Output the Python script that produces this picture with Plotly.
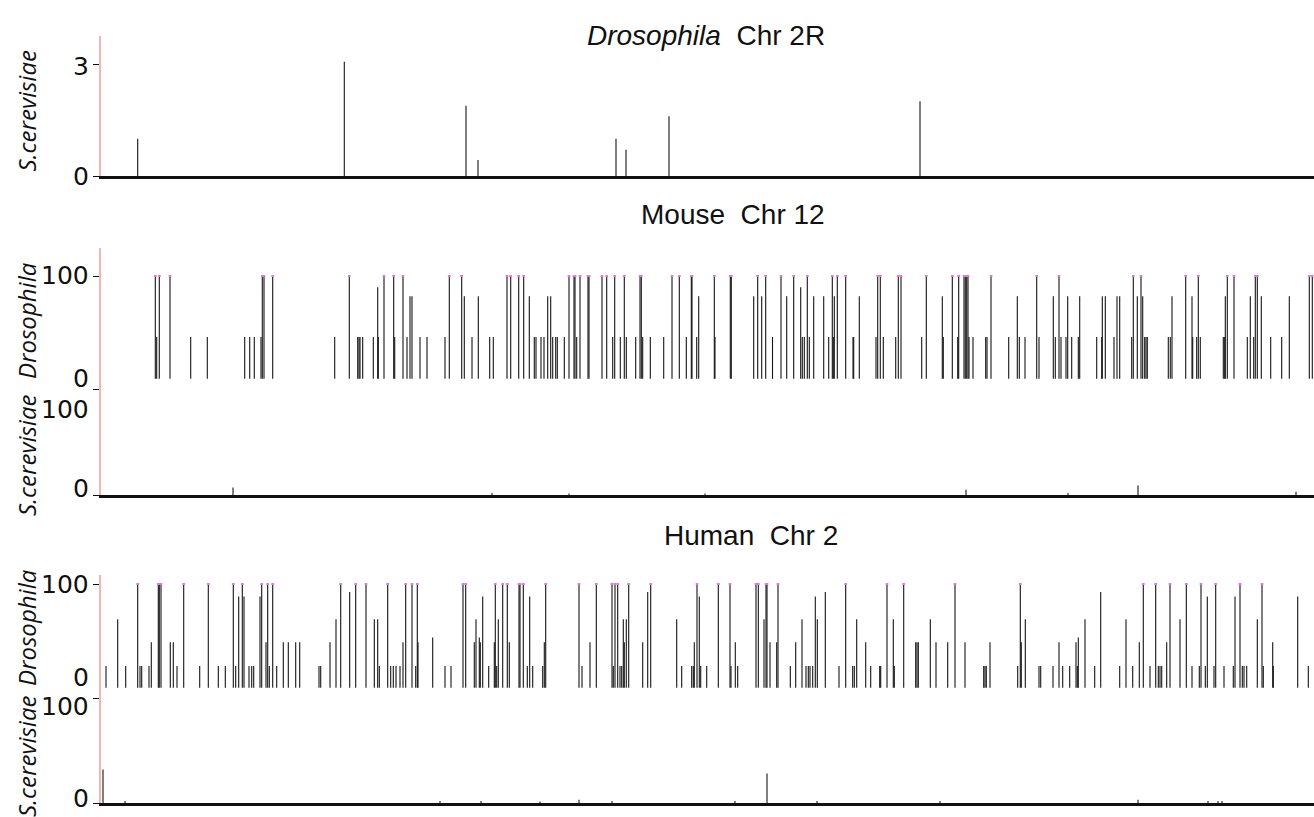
import plotly.graph_objects as go

# ---------------- data (positions along chromosome, arbitrary units 1..1214) ----------------
fly_2r_pos = [37.7, 244.3, 366, 378, 516, 526, 569, 820]
fly_2r_sc = [1.0, 3.06, 1.88, 0.43, 1.0, 0.7, 1.6, 2.0]

mouse_dros_pos = [55.3, 56.7, 59.3, 70, 90.7, 107.3, 144.7, 149.7, 154.3, 161, 162.3, 164, 172.7, 234.7,
    249.3, 257.7, 259, 260, 262.7, 273.3, 277.7, 278.3, 284, 293.7, 294.7, 303, 307, 310, 312, 320, 327,
    345, 349.3, 361.7, 364.3, 372, 378.3, 389.7, 393.3, 407, 410.7, 418.7, 423.7, 429.3, 434.3, 436, 441,
    444, 447.7, 450.7, 452.7, 455.7, 457.3, 464.3, 469, 474, 475, 476.7, 480, 488, 489, 502, 506.7, 512.7,
    514.7, 520.3, 524.3, 526.3, 535.7, 540, 541.3, 542.7, 550.3, 563.7, 572, 579.3, 586.3, 591.3, 592,
    596.7, 598.7, 614.3, 615, 630.3, 631.3, 653.7, 657.7, 661.7, 665.7, 672.5, 681, 686.7, 693.7, 700.7,
    702.3, 704.3, 707.3, 709.3, 713.7, 723.7, 728.7, 732.3, 733.3, 734.3, 737.3, 745.7, 753, 753.7, 759.3,
    776, 777.7, 780.3, 783.3, 795.7, 798.3, 801, 821.7, 826.3, 842.3, 843.3, 852.3, 857.7, 858.7, 864,
    865.3, 866.7, 868, 869, 873, 885.7, 887, 891, 908.7, 917.3, 919.3, 925, 936.7, 939, 953.3, 955.3, 959,
    961, 966, 967.7, 971.7, 978.3, 979.7, 996.7, 1001.7, 1002.3, 1005.3, 1014, 1017, 1019.7, 1031.7,
    1033.3, 1037.3, 1041, 1042.7, 1044.7, 1046, 1047.3, 1068.3, 1070.3, 1072, 1085.7, 1092, 1092.7,
    1096.7, 1098.3, 1100.3, 1123.3, 1124.7, 1125.3, 1127.3, 1134, 1147.3, 1150.3, 1153.7, 1155.3, 1157.3,
    1161.3, 1170.7, 1181.7, 1189.3, 1209.3, 1212.3]
mouse_dros_val = [100, 46, 100, 100, 46, 46, 46, 46, 46, 46, 100, 100, 100, 46,
    100, 46, 46, 46, 46, 46, 90, 46, 100, 100, 46, 100, 46, 82, 82, 46, 46,
    46, 100, 100, 82, 46, 82, 46, 46, 100, 100, 100, 100, 82, 46, 46, 46,
    46, 82, 82, 46, 46, 46, 46, 100, 100, 100, 46, 100, 100, 100, 100, 100, 46,
    100, 46, 100, 46, 46, 100, 100, 46, 46, 46, 100, 100, 46, 100, 100,
    46, 82, 100, 46, 100, 100, 82, 100, 82, 100, 46, 100, 82, 100, 90,
    46, 46, 100, 46, 82, 82, 46, 100, 46, 82, 100, 100, 46, 46, 82,
    46, 100, 100, 46, 46, 100, 100, 46, 100, 82, 46, 100, 46, 100, 100,
    100, 100, 100, 46, 46, 46, 46, 100, 46, 82, 46, 46, 100, 46, 82, 46, 100,
    46, 46, 82, 46, 46, 82, 46, 46, 82, 82, 46, 82, 82, 46,
    100, 82, 100, 82, 46, 46, 46, 46, 46, 82, 100, 82, 46,
    46, 100, 46, 46, 46, 82, 100, 100, 46, 82, 46, 100, 100,
    82, 46, 46, 82, 100, 100]

mouse_sc_pos = [133, 392, 469, 605, 866, 968, 1038, 1196]
mouse_sc_val = [7, 2, 1.5, 1.5, 5, 2, 9, 3]

human_dros_pos = [6, 17.7, 25.7, 37.7, 40, 41.7, 49, 51.3, 58.3, 59.3, 61, 70.3, 73.3, 77, 83.7, 99.7,
    108.3, 118.3, 125.3, 133.3, 135.7, 138.7, 142.3, 144, 149, 151.7, 153.7, 160, 161.7, 166, 167.7,
    169.3, 172.7, 176.7, 183.3, 188.3, 195.7, 199.7, 219, 220.7, 230, 236, 240.7, 249.7, 255.7, 266,
    274.3, 277.7, 279.3, 287.7, 290.7, 293.3, 296, 300, 303, 305.7, 312, 315.7, 317.3, 318, 332.7, 345,
    351, 363, 365.7, 374.3, 376, 379.3, 380.3, 382.7, 388.7, 394.3, 395.3, 396.7, 398.3, 402.7, 407.3,
    409.3, 419, 420, 423.3, 427.3, 429.7, 432.7, 442.7, 444.3, 445.7, 479, 482, 490, 496.3, 512, 513.3,
    515, 517.7, 520, 521.7, 523.3, 524.3, 526.3, 528.7, 542.7, 547.7, 550.7, 576.7, 581.7, 591.7, 593.3,
    594.3, 597, 599.3, 600.7, 606.7, 618.3, 630, 631, 635.3, 637.7, 656, 658.3, 664, 666, 667, 670,
    676.7, 678, 690.3, 695.7, 702, 706, 708.3, 710, 712.7, 715.3, 717.3, 725.3, 739, 745.7, 752.7,
    754.3, 756.7, 765.7, 770.7, 779.7, 780.7, 787, 793.3, 794.3, 803.7, 815.7, 817, 818.3, 830.3, 836,
    847.7, 855, 865, 883.7, 885, 886.3, 890, 917.7, 920.3, 921.3, 925.3, 939, 940.7, 953, 959, 962.7,
    969.7, 976, 977.3, 978.3, 985, 994.7, 1000.7, 1019.7, 1026, 1032.7, 1039.3, 1043.3, 1050, 1055.7,
    1058.3, 1060, 1061.7, 1066.7, 1070, 1080, 1086.3, 1092, 1099.3, 1101, 1105.3, 1107.3, 1114, 1115.7,
    1124, 1133.3, 1135, 1140, 1142.3, 1144, 1146.7, 1157.3, 1162, 1163.3, 1172.7, 1173.3, 1197.7, 1208.3]
human_dros_val = [28, 69, 28, 100, 28, 28, 28, 49, 100, 100, 100, 49, 49, 28, 100, 28,
    100, 28, 28, 100, 28, 89, 100, 89, 28, 28, 28, 89, 100, 49, 100,
    28, 100, 28, 49, 49, 49, 49, 28, 28, 49, 69, 100, 93, 100, 100,
    69, 69, 28, 100, 28, 28, 28, 28, 49, 100, 100, 28, 100, 49, 53, 28,
    28, 100, 100, 49, 69, 53, 49, 89, 28, 49, 100, 28, 69, 100, 100,
    49, 100, 100, 100, 28, 89, 28, 28, 49, 100, 100, 28, 49, 100, 100, 28,
    100, 100, 28, 28, 69, 49, 69, 100, 49, 93, 100, 69, 28, 28, 28,
    49, 100, 89, 28, 28, 100, 100, 28, 49, 28, 100, 100, 69, 100, 100, 49,
    49, 100, 28, 49, 69, 28, 28, 28, 28, 89, 69, 93, 28, 100, 28,
    28, 69, 49, 28, 28, 28, 100, 69, 28, 100, 49, 49, 49, 69, 49,
    49, 100, 49, 28, 28, 28, 49, 28, 100, 49, 69, 28, 28, 28, 49, 28,
    28, 49, 28, 53, 69, 28, 93, 28, 69, 28, 49, 100, 28, 100,
    28, 28, 28, 49, 100, 69, 100, 28, 28, 100, 28, 89, 28, 100,
    28, 28, 89, 100, 28, 28, 28, 69, 100, 28, 49, 28, 89, 28]

human_sc_pos = [3, 25, 340, 381, 440, 479, 512, 635, 667, 717, 840, 1038, 1108, 1118, 1122]
human_sc_val = [32, 2, 2, 2, 1.5, 3, 2, 2, 28, 2, 2, 3, 2, 2, 2]

titles = ["<i>Drosophila</i>  Chr 2R", "Mouse  Chr 12", "Human  Chr 2"]

# ---------------- layout helpers ----------------
W, H, LM = 1314, 817, 101
PW = W - LM


def py(y):
    return 1 - y / H


def px(x):
    return (x - LM) / PW


def stems(xs, vals, base):
    X, Y = [], []
    for x, v in zip(xs, vals):
        X += [x, x, None]
        Y += [base, v, None]
    return X, Y


BAR = "#151515"
PINK_AX = "#f5b3b3"
CAP = "#e47ad8"
DROS_BASE = 9

fig = go.Figure()

panels = [
    (fly_2r_pos, fly_2r_sc, 0, "x", "y"),
    (mouse_dros_pos, mouse_dros_val, DROS_BASE, "x2", "y2"),
    (mouse_sc_pos, mouse_sc_val, 0, "x3", "y3"),
    (human_dros_pos, human_dros_val, DROS_BASE, "x4", "y4"),
    (human_sc_pos, human_sc_val, 0, "x5", "y5"),
]
for xs, vs, base, xa, ya in panels:
    X, Y = stems(xs, vs, base)
    fig.add_trace(go.Scatter(x=X, y=Y, mode="lines", xaxis=xa, yaxis=ya,
                             line=dict(color=BAR, width=1.1), hoverinfo="skip", showlegend=False))

# pink caps on bars reaching 100
for xs, vs, xa, ya in [(mouse_dros_pos, mouse_dros_val, "x2", "y2"),
                       (human_dros_pos, human_dros_val, "x4", "y4")]:
    cx = [x for x, v in zip(xs, vs) if v == 100]
    fig.add_trace(go.Scatter(x=cx, y=[100] * len(cx), mode="markers", xaxis=xa, yaxis=ya,
                             marker=dict(symbol="line-ew", size=2, line=dict(color=CAP, width=2)),
                             hoverinfo="skip", showlegend=False))

# panel geometry (pixel rows) : (top, bottom, range_top, tickvals, xline)
geo = [
    (36, 176, 3.75, [0, 3], True),
    (248, 389, 124.8, [0, 100], False),
    (389, 495, 100, [0, 100], True),
    (575, 698, 107.9, [0, 100], False),
    (698, 803, 100, [0, 100], True),
]
xrange = [1, 1214]
for i, (top, bot, rtop, tv, xline) in enumerate(geo, start=1):
    sfx = "" if i == 1 else str(i)
    fig.layout["xaxis" + sfx] = dict(domain=[0, 1], range=xrange, anchor="y" + sfx,
                                     showline=xline, linecolor="#111111", linewidth=3,
                                     showgrid=False, zeroline=False, ticks="", showticklabels=False,
                                     fixedrange=True)
    fig.layout["yaxis" + sfx] = dict(domain=[py(bot), py(top)], range=[0, rtop], anchor="x" + sfx,
                                     showline=True, linecolor=PINK_AX, linewidth=1.5,
                                     showgrid=False, zeroline=False, ticks="outside", ticklen=6,
                                     tickcolor="#111111", tickwidth=1, tickvals=tv,
                                     showticklabels=False, fixedrange=True)

annotations = []
TICKFONT = dict(family="DejaVu Sans, sans-serif", size=25, color="#111111")
# tick labels: (axis, value, text, yshift)
tick_labels = [
    ("y", 3, "3", -2), ("y", 0, "0", 0),
    ("y2", 100, "100", 1.5), ("y2", 0, "0", 11),
    ("y3", 100, "100", -20), ("y3", 0, "0", 7),
    ("y4", 100, "100", 0), ("y4", 0, "0", 21),
    ("y5", 100, "100", -8), ("y5", 0, "0", 5.5),
]
for ya, val, txt, ys in tick_labels:
    annotations.append(dict(xref="paper", yref=ya, x=0, y=val, text=txt, showarrow=False,
                            xanchor="right", yanchor="middle", xshift=-10, yshift=ys,
                            height=24, valign="middle", font=TICKFONT))

TITLEFONT = dict(family="Liberation Sans, Arial, sans-serif", size=28, color="#111111")
for txt, cx, cy in zip(titles, [706, 733, 751], [35, 215, 535]):
    annotations.append(dict(xref="paper", yref="paper", x=px(cx), y=py(cy), text=txt,
                            showarrow=False, xanchor="center", yanchor="middle", font=TITLEFONT))

YTFONT = dict(family="Open Sans, sans-serif", size=24, color="#111111")
for txt, cy in [("<i>S.cerevisiae</i>", 111.5), ("<i>Drosophila</i>", 321),
                ("<i>S.cerevisiae</i>", 456), ("<i>Drosophila</i>", 628),
                ("<i>S.cerevisiae</i>", 757)]:
    annotations.append(dict(xref="paper", yref="paper", x=px(26), y=py(cy), text=txt,
                            showarrow=False, textangle=-90, xanchor="center", yanchor="middle",
                            font=YTFONT))

fig.update_layout(width=W, height=H, margin=dict(l=LM, r=0, t=0, b=0, pad=0),
                  paper_bgcolor="white", plot_bgcolor="white", showlegend=False,
                  annotations=annotations)

fig.write_html("out.html", config={"displayModeBar": False})
